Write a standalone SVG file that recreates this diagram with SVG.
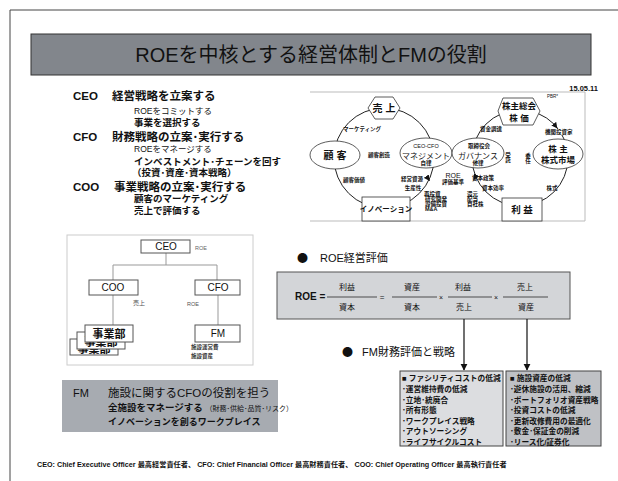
<svg xmlns="http://www.w3.org/2000/svg" width="618" height="481" viewBox="0 0 618 481">
<style>
text{font-family:"Liberation Sans","Noto Sans CJK JP",sans-serif;fill:#111}
.b{font-weight:bold}
.c{text-anchor:middle}
.bul{font-family:"Noto Sans CJK JP",sans-serif;font-size:11px}
.tiny{font-size:5.5px;font-weight:bold}
.cyc{fill:none;stroke:#222;stroke-width:1}
.node{fill:#fff;stroke:#333;stroke-width:0.8}
.org{fill:#fff;stroke:#555;stroke-width:1}
.orgl{fill:none;stroke:#999;stroke-width:1}
.lst{font-size:7.7px;font-weight:bold}
</style>
<defs>
<marker id="ah" viewBox="0 0 10 10" refX="9" refY="5" markerWidth="6" markerHeight="6" orient="auto"><path d="M0,0 L10,5 L0,10 z" fill="#111"/></marker>
</defs>
<rect width="618" height="481" fill="#fff"/>
<path d="M618,10 H10 V481" fill="none" stroke="#444" stroke-width="1"/>

<g id="title">
<rect x="31" y="34" width="560" height="41" fill="#82868c" stroke="#333" stroke-width="1"/>
<text x="311" y="62" class="c" font-size="20">ROEを中核とする経営体制とFMの役割</text>
</g>
<text x="598" y="91" font-size="7.5" class="b" text-anchor="end">15.05.11</text>

<g id="roles">
<text x="73" y="100" font-size="11.5" class="b">CEO</text>
<text x="112" y="100" font-size="11.5" class="b">経営戦略を立案する</text>
<text x="134" y="114" font-size="8.5">ROEをコミットする</text>
<text x="134" y="126" font-size="9.5" class="b">事業を選択する</text>
<text x="73" y="141" font-size="11.5" class="b">CFO</text>
<text x="112" y="141" font-size="11.5" class="b">財務戦略の立案･実行する</text>
<text x="134" y="152" font-size="8.5">ROEをマネージする</text>
<text x="134" y="165" font-size="9.5" class="b">インベストメント･チェーンを回す</text>
<text x="132" y="176" font-size="9.5" class="b">（投資･資産･資本戦略）</text>
<text x="73" y="191" font-size="11.5" class="b">COO</text>
<text x="114" y="191" font-size="11.5" class="b">事業戦略の立案･実行する</text>
<text x="134" y="202" font-size="9.5" class="b">顧客のマーケティング</text>
<text x="134" y="214" font-size="9.5" class="b">売上で評価する</text>
</g>

<g id="cycle">
<path d="M310,92 H585 V221 H310" fill="none" stroke="#bbb" stroke-width="1"/>
<g id="cycle-connectors">
<circle cx="384" cy="158" r="50" class="cyc"/>
<circle cx="520" cy="158" r="48" class="cyc"/>
<path d="M427,177 L429.5,180.5" class="cyc" marker-end="url(#ah)"/>
<path d="M476,176 L474,179.5" class="cyc" marker-end="url(#ah)"/>
<path d="M554,124 L557,128" class="cyc" marker-end="url(#ah)"/>
</g>
<g id="n-sales"><polygon points="368,108 375,97 393,97 400,108 393,119 375,119" class="node"/><text x="384" y="112" class="c b" font-size="10">売 上</text></g>
<g id="n-share"><polygon points="498,111 503,98 533,98 540,111 533,125 503,125" class="node"/><text x="519" y="109" class="c b" font-size="8.5">株主総会</text><text x="519" y="121" class="c b" font-size="8.5">株 価</text></g>
<text x="547" y="98" font-size="4.5">PBR*</text>
<g id="n-cust"><ellipse cx="335" cy="155" rx="25" ry="14" class="node"/><text x="335" y="159" class="c b" font-size="10">顧 客</text></g>
<g id="n-mgmt"><ellipse cx="426" cy="153" rx="26" ry="15" class="node"/><text x="426" y="148" class="c" font-size="5.5">CEO-CFO</text><text x="426" y="158.5" class="c" font-size="8">マネジメント</text><text x="426" y="165" class="c tiny" font-size="4.5">自律</text></g>
<g id="n-gov"><ellipse cx="478" cy="153" rx="26" ry="15" class="node"/><text x="479" y="148" class="c tiny">取締役会</text><text x="478" y="158.5" class="c" font-size="8">ガバナンス</text><text x="478" y="165" class="c tiny" font-size="4.5">他律</text></g>
<g id="n-market"><ellipse cx="558" cy="154" rx="25" ry="15" class="node"/><text x="558" y="152" class="c b" font-size="8.5">株 主</text><text x="558" y="163" class="c b" font-size="8.5">株式市場</text></g>
<g id="n-innov"><rect x="362" y="197" width="48" height="24" class="node"/><text x="386" y="212" class="c b" font-size="7.5">イノベーション</text></g>
<g id="n-profit"><rect x="502" y="198" width="40" height="23" class="node"/><text x="522" y="213" class="c b" font-size="9.5">利 益</text></g>
<text x="343" y="131" class="tiny">マーケティング</text>
<text x="368" y="157" class="tiny">顧客創造</text>
<text x="343" y="182" class="tiny">顧客価値</text>
<text x="480" y="131" class="tiny">資金調達</text>
<rect x="544" y="129" width="32" height="6" fill="#fff"/>
<text x="545" y="134" class="tiny">機関投資家</text>
<text x="508" y="152" class="tiny" writing-mode="tb">受託</text>
<text x="528" y="153" class="tiny" writing-mode="tb">委任</text>
<text x="412" y="181" class="c tiny">経営資源</text>
<text x="413" y="190" class="c tiny">生産性</text>
<text x="453" y="178" class="c" font-size="7">ROE</text>
<text x="453" y="184" class="c tiny" font-size="4.5">評価基準</text>
<text x="483" y="180" class="c tiny">資本政策</text>
<text x="493" y="190" class="c tiny">資本効率</text>
<text x="424" y="196" class="tiny">再投資</text>
<text x="425" y="201" class="tiny" font-size="4.5">研究開発</text>
<text x="425" y="206" class="tiny" font-size="4.5">設備投資</text>
<text x="425" y="211" class="tiny" font-size="4.5">M&amp;A</text>
<text x="467" y="196" class="tiny">還元</text>
<text x="467" y="201" class="tiny" font-size="4.5">配当</text>
<text x="467" y="206" class="tiny" font-size="4.5">自社株</text>
<text x="552" y="190" class="c tiny">株式</text>
</g>

<g id="orgchart">
<rect x="67" y="235" width="186" height="130" fill="none" stroke="#ccc" stroke-width="1"/>
<g id="org-connectors">
<path d="M166,253 V265 M113,265 H217 M113,265 V280 M217,265 V280 M113,295 V325 M218,295 V325" class="orgl"/>
</g>
<g id="o-ceo"><rect x="141" y="240" width="49" height="13" class="org"/><text x="166" y="250" class="c" font-size="10">CEO</text></g>
<text x="195" y="250" font-size="5.5" style="fill:#666">ROE</text>
<g id="o-coo"><rect x="89" y="280" width="49" height="15" class="org"/><text x="113" y="291" class="c" font-size="10">COO</text></g>
<g id="o-cfo"><rect x="195" y="280" width="45" height="15" class="org"/><text x="218" y="291" class="c" font-size="10">CFO</text></g>
<text x="133" y="305" font-size="6" style="fill:#555">売上</text>
<text x="187" y="306" font-size="5.5" style="fill:#555">ROE</text>
<g id="o-div3"><rect x="70" y="339" width="48" height="16" class="org"/><text x="94" y="353" class="c b" font-size="11">事業部</text></g>
<g id="o-div2"><rect x="77" y="332" width="48" height="17" class="org"/><text x="101" y="346" class="c b" font-size="11">事業部</text></g>
<g id="o-div1"><rect x="85" y="325" width="48" height="17" class="org"/><text x="109" y="338" class="c b" font-size="11">事業部</text></g>
<g id="o-fm"><rect x="195" y="325" width="45" height="17" class="org"/><text x="218" y="337" class="c" font-size="10">FM</text></g>
<text x="191" y="349" font-size="5.5" class="b" style="fill:#333">施設運営費</text>
<text x="191" y="358" font-size="5.5" class="b" style="fill:#333">施設資産</text>
</g>

<g id="roe">
<text x="297" y="262" class="bul">●</text>
<text x="320" y="262" font-size="11">ROE経営評価</text>
<rect x="277" y="272" width="293" height="47" fill="#d3d5d8" stroke="#555" stroke-width="1"/>
<text x="295" y="300" class="b" font-size="10">ROE =</text>
<g font-size="8">
<text x="347" y="290" class="c">利益</text><path d="M327,297 H377" stroke="#111" stroke-width="0.7"/><text x="347" y="310" class="c">資本</text>
<text x="382" y="300" class="c" font-size="8">=</text>
<text x="412" y="290" class="c">資産</text><path d="M392,297 H437" stroke="#111" stroke-width="0.7"/><text x="412" y="310" class="c">資本</text>
<text x="441" y="300" class="c" font-size="7">×</text>
<text x="463" y="290" class="c">利益</text><path d="M448,297 H492" stroke="#111" stroke-width="0.7"/><text x="464" y="310" class="c">売上</text>
<text x="496" y="300" class="c" font-size="7">×</text>
<text x="525" y="290" class="c">売上</text><path d="M503,297 H548" stroke="#111" stroke-width="0.7"/><text x="526" y="310" class="c">資産</text>
</g>
</g>

<g id="roe-connectors">
<path d="M464,319 V370" fill="none" stroke="#111" stroke-width="1.2" marker-end="url(#ah)"/>
<path d="M527,319 V370" fill="none" stroke="#111" stroke-width="1.2" marker-end="url(#ah)"/>
</g>

<text x="342" y="356" class="bul">●</text>
<text x="362" y="356" font-size="11">FM財務評価と戦略</text>

<g id="box-cost">
<rect x="400" y="371" width="103" height="75" fill="#dcdde0" stroke="#444" stroke-width="1"/>
<g class="lst">
<text x="402" y="381">■ ファシリティコストの低減</text>
<text x="402" y="392">･運営維持費の低減</text>
<text x="402" y="402.5">･立地･統廃合</text>
<text x="402" y="413">･所有形態</text>
<text x="402" y="423.5">･ワークプレイス戦略</text>
<text x="402" y="434">･アウトソーシング</text>
<text x="402" y="444.5">･ライフサイクルコスト</text>
</g>
</g>
<g id="box-asset">
<rect x="506" y="371" width="95" height="75" fill="#bfc1c5" stroke="#444" stroke-width="1"/>
<g class="lst">
<text x="510" y="381">■ 施設資産の低減</text>
<text x="510" y="392">･遊休施設の活用、縮減</text>
<text x="510" y="402.5">･ポートフォリオ資産戦略</text>
<text x="510" y="413">･投資コストの低減</text>
<text x="510" y="423.5">･更新改修費用の最適化</text>
<text x="510" y="434">･敷金･保証金の削減</text>
<text x="510" y="444.5">･リース化/証券化</text>
</g>
</g>

<g id="fm-role">
<rect x="62" y="380" width="216" height="52" fill="#a7abb1"/>
<text x="73" y="397" font-size="11">FM</text>
<text x="108" y="397" font-size="11.5">施設に関するCFOの役割を担う</text>
<text x="108" y="411" font-size="9.5" class="b">全施設をマネージする <tspan font-size="7" font-weight="normal">（財務･供給･品質･リスク）</tspan></text>
<text x="108" y="425" font-size="9" class="b">イノベーションを創るワークプレイス</text>
</g>

<text x="37" y="467" font-size="7.2" class="b">CEO:  Chief Executive Officer 最高経営責任者、 CFO:  Chief Financial Officer 最高財務責任者、 COO:  Chief Operating Officer 最高執行責任者</text>
</svg>
